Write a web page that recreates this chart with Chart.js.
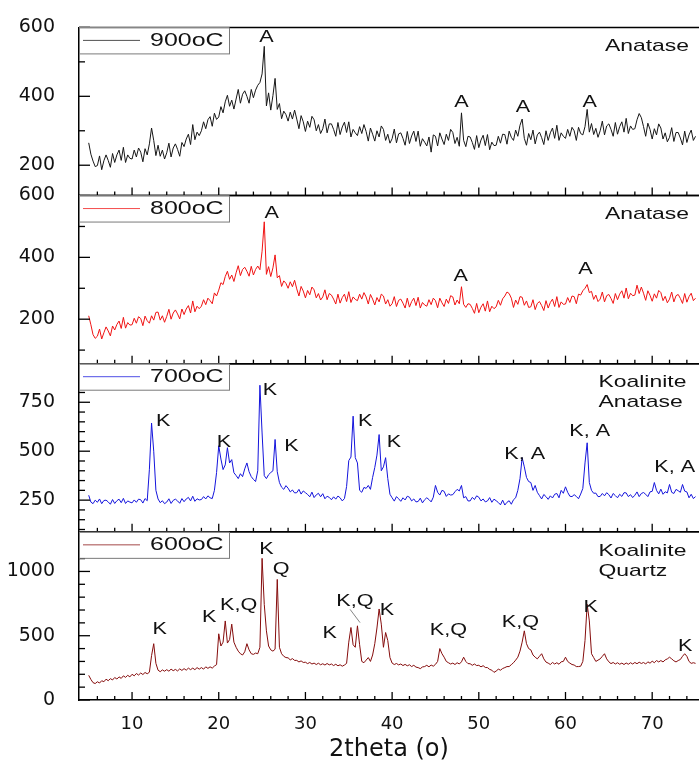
<!DOCTYPE html>
<html>
<head>
<meta charset="utf-8">
<script src="https://cdn.jsdelivr.net/npm/chart.js@4.4.1/dist/chart.umd.min.js"></script>
<style>
  html, body { margin: 0; padding: 0; background: #fff; overflow: hidden; }
  #wrap { width: 699px; height: 764px; }
</style>
</head>
<body>
<div id="wrap"><canvas id="xrdChart" width="699" height="764"></canvas></div>
<script>
// 2theta grid of the scans, 5 to 75 deg in 0.25 deg steps
const twoTheta = [];
for (let i = 0; i <= 280; i++) twoTheta.push(5 + i * 0.25);

// intensities, one group per degree (4 points)
const xrd900 = [
  265, 232, 212, 196,  199, 227, 187, 213,  230, 214, 194, 234,  208, 230, 244, 214,
  252, 208, 230, 220,  218, 244, 224, 250,  238, 210, 248, 230,  262, 308, 272, 228,
  258, 226, 244, 218,  236, 264, 224, 250,  262, 246, 226, 266,  254, 276, 290, 260,
  318, 274, 296, 286,  300, 326, 306, 332,  341, 313, 351, 333,  340, 370, 352, 384,
  403, 371, 389, 363,  392, 420, 380, 406,  416, 400, 380, 420,  396, 418, 432, 440,
  465, 545, 372, 410,  360, 402, 452, 362,  379, 335, 357, 347,  328, 354, 334, 360,
  334, 306, 344, 326,  298, 328, 310, 342,  332, 300, 318, 292,  306, 334, 294, 320,
  320, 304, 284, 324,  289, 311, 325, 295,  326, 282, 304, 294,  286, 312, 292, 318,
  298, 270, 308, 290,  270, 300, 282, 314,  304, 272, 290, 264,  277, 305, 265, 291,
  294, 278, 258, 298,  263, 285, 299, 269,  299, 255, 277, 267,  256, 282, 238, 288,
  284, 256, 294, 276,  260, 290, 272, 304,  295, 263, 281, 255,  352, 272, 254, 284,
  282, 266, 246, 286,  251, 273, 287, 257,  289, 245, 267, 257,  258, 284, 264, 290,
  289, 261, 299, 281,  272, 302, 284, 316,  334, 278, 258, 292,  274, 302, 262, 288,
  296, 280, 260, 300,  272, 294, 308, 278,  316, 272, 294, 284,  278, 304, 284, 310,
  300, 272, 310, 292,  288, 312, 362, 296,  321, 289, 307, 281,  300, 328, 288, 314,
  320, 304, 284, 324,  290, 312, 326, 296,  336, 292, 314, 304,  306, 332, 350, 338,
  312, 284, 322, 304,  276, 306, 288, 320,  308, 276, 294, 268,  281, 309, 269, 295,
  295, 279, 259, 299,  266, 288, 302, 272,
  284
];
const xrd800 = [
  211, 182, 150, 138,  145, 168, 136, 156,  175, 162, 146, 178,  165, 183, 194, 170,
  206, 171, 189, 181,  182, 203, 187, 208,  202, 179, 210, 195,  187, 211, 197, 222,
  223, 197, 211, 190,  209, 232, 200, 220,  230, 217, 201, 233,  215, 233, 244, 220,
  259, 224, 242, 234,  242, 263, 247, 268,  260, 250, 285, 275,  294, 318, 312, 338,
  355, 329, 343, 322,  350, 373, 341, 361,  368, 355, 339, 371,  343, 361, 372, 360,
  420, 515, 345, 370,  338, 366, 408, 334,  341, 306, 324, 316,  300, 321, 305, 326,
  298, 275, 306, 291,  269, 293, 279, 304,  295, 269, 283, 262,  272, 295, 263, 283,
  278, 265, 249, 281,  252, 270, 281, 257,  289, 254, 272, 264,  260, 281, 265, 286,
  272, 249, 280, 265,  246, 270, 256, 281,  275, 249, 263, 242,  250, 273, 241, 261,
  265, 252, 236, 268,  239, 257, 268, 244,  271, 236, 254, 246,  242, 263, 247, 268,
  260, 237, 268, 253,  241, 265, 251, 276,  272, 246, 262, 250,  305, 248, 238, 250,
  248, 235, 219, 251,  221, 239, 250, 226,  259, 224, 242, 234,  240, 261, 245, 266,
  275, 288, 283, 268,  238, 262, 248, 273,  271, 245, 259, 238,  240, 263, 231, 251,
  257, 244, 228, 260,  236, 254, 265, 241,  273, 238, 256, 248,  249, 270, 254, 275,
  273, 250, 281, 278,  292, 300, 312, 286,  290, 264, 278, 257,  265, 288, 256, 276,
  280, 267, 251, 283,  263, 281, 292, 268,  301, 266, 284, 276,  278, 310, 283, 304,
  284, 261, 292, 277,  258, 282, 268, 293,  286, 260, 274, 253,  265, 288, 256, 276,
  280, 267, 251, 283,  255, 273, 284, 260,
  268
];
const xrd700 = [
  275, 240, 232, 250,  239, 256, 232, 248,  250, 241, 229, 253,  233, 247, 255, 237,
  259, 233, 246, 240,  236, 251, 239, 255,  252, 235, 258, 247,  408, 644, 500, 300,
  256, 237, 247, 232,  240, 257, 233, 249,  255, 246, 234, 258,  242, 256, 264, 246,
  270, 244, 257, 251,  253, 268, 256, 272,  262, 258, 300, 391,  528, 460, 406, 430,
  518, 440, 457, 390,  376, 360, 385, 370,  410, 440, 395, 370,  356, 345, 400, 837,
  593, 375, 360, 380,  391, 400, 560, 395,  340, 316, 305, 324,  311, 292, 302, 287,
  288, 305, 281, 297,  288, 279, 267, 291,  263, 277, 285, 267,  283, 257, 270, 264,
  252, 267, 255, 271,  262, 246, 258, 320,  452, 470, 679, 467,  440, 300, 290, 315,
  310, 325, 305, 366,  417, 480, 585, 400,  420, 467, 360, 280,  262, 245, 268, 257,
  244, 262, 251, 270,  265, 246, 256, 241,  243, 260, 236, 252,  262, 253, 241, 265,
  325, 290, 276, 300,  295, 269, 282, 276,  278, 293, 305, 297,  325, 262, 268, 246,
  246, 264, 253, 272,  265, 246, 256, 241,  246, 263, 239, 255,  247, 238, 226, 250,
  225, 239, 247, 229,  252, 262, 300, 360,  467, 420, 366, 345,  340, 300, 325, 290,
  273, 256, 279, 268,  254, 272, 261, 280,  284, 262, 300, 285,  318, 290, 270, 268,
  278, 269, 257, 281,  310, 440, 543, 340,  300, 285, 286, 268,  269, 284, 272, 288,
  278, 261, 284, 273,  262, 280, 269, 288,  287, 268, 278, 263,  275, 292, 268, 284,
  289, 280, 268, 292,  295, 340, 300, 282,  306, 280, 293, 287,  330, 290, 284, 305,
  298, 290, 330, 296,  292, 262, 280, 258,
  268
];
const xrd600 = [
  192, 160, 135, 128,  142, 132, 150, 142,  162, 150, 166, 156,  175, 163, 180, 168,
  188, 176, 192, 180,  200, 188, 206, 194,  210, 198, 214, 204,  216, 345, 438, 285,
  232, 220, 234, 224,  236, 224, 240, 228,  238, 226, 242, 230,  244, 232, 248, 236,
  248, 236, 252, 240,  252, 240, 258, 246,  258, 248, 264, 275,  515, 420, 450, 615,
  443, 470, 590, 450,  410, 380, 360, 350,  375, 438, 390, 360,  355, 365, 360, 410,
  1102, 744, 538, 420, 390, 380, 395, 938,  410, 360, 340, 330,  328, 312, 322, 308,
  308, 296, 304, 292,  294, 283, 292, 280,  287, 276, 286, 274,  282, 272, 284, 273,
  280, 268, 278, 266,  274, 263, 272, 285,  450, 564, 430, 410,  577, 430, 300, 290,
  310, 330, 300, 350,  438, 560, 708, 590,  410, 525, 462, 330,  287, 276, 284, 273,
  280, 268, 277, 266,  274, 260, 270, 256,  252, 244, 257, 260,  270, 258, 272, 263,
  277, 300, 400, 360,  333, 300, 290, 280,  287, 276, 290, 280,  297, 333, 300, 283,
  282, 270, 280, 268,  270, 258, 267, 253,  252, 238, 232, 215,  225, 240, 232, 245,
  252, 260, 260, 275,  290, 310, 333, 380,  450, 538, 438, 400,  390, 350, 333, 320,
  340, 360, 320, 295,  287, 276, 292, 280,  290, 278, 297, 300,  333, 300, 287, 276,
  272, 260, 260, 263,  300, 462, 744, 615,  360, 330, 300, 310,  320, 340, 360, 320,
  297, 283, 292, 280,  290, 278, 287, 276,  288, 278, 290, 280,  292, 282, 294, 284,
  292, 280, 297, 286,  302, 290, 307, 296,  307, 296, 312, 320,  333, 320, 305, 296,
  307, 315, 340, 360,  340, 300, 285, 290,
  285
];

// axis ticks
const xLabels = [10, 20, 30, 40, 50, 60, 70];
const xMinor = [6, 8, 12, 14, 16, 18, 22, 24, 26, 28, 32, 34, 36, 38, 42, 44, 46, 48, 52, 54, 56, 58, 62, 64, 66, 68, 72, 74];
const yLabels900 = [200, 400, 600];
const yMinor900 = [300, 500];
const yLabels800 = [200, 400, 600];
const yMinor800 = [100, 300, 500];
const yLabels700 = [250, 500, 750];
const yMinor700 = [100, 150, 200, 300, 350, 400, 450, 550, 600, 650, 700, 800, 850, 900];
const yLabels600 = [0, 500, 1000];
const yMinor600 = [100, 200, 300, 400, 600, 700, 800, 900, 1100, 1200, 1300];

// peak marks: [text, 2theta, intensity]
const marks900 = [['A', 25.5, 570], ['A', 48.0, 381], ['A', 55.1, 366], ['A', 62.8, 381]];
const marks800 = [['A', 26.1, 541], ['A', 47.9, 339], ['A', 62.3, 360]];
const marks700 = [['K', 13.6, 652], ['K', 20.6, 546], ['K', 25.9, 812], ['K', 28.4, 526],
  ['K', 36.9, 652], ['K', 40.2, 543], ['K, A', 55.3, 484], ['K, A', 62.8, 602], ['K, A', 72.6, 417]];
const marks600 = [['K', 13.2, 551], ['K', 18.9, 641], ['K,Q', 22.3, 731], ['K', 25.5, 1167],
  ['Q', 27.2, 1013], ['K', 32.8, 513], ['K,Q', 35.7, 769], ['K', 39.4, 692],
  ['K,Q', 46.5, 538], ['K,Q', 54.8, 602], ['K', 62.9, 718], ['K', 73.8, 415]];

const panels = [
  { axis: 'y900', name: '900oC', color: '#161616', phases: ['Anatase'], labels: yLabels900, minor: yMinor900, marks: marks900 },
  { axis: 'y800', name: '800oC', color: '#f01212', phases: ['Anatase'], labels: yLabels800, minor: yMinor800, marks: marks800 },
  { axis: 'y700', name: '700oC', color: '#1414dc', phases: ['Koalinite', 'Anatase'], labels: yLabels700, minor: yMinor700, marks: marks700 },
  { axis: 'y600', name: '600oC', color: '#850c0c', phases: ['Koalinite', 'Quartz'], labels: yLabels600, minor: yMinor600, marks: marks600 }
];

// text in the figure is a wide Arial, so stretch it a little
function wideText(ctx, text, x, y, size, align) {
  ctx.save();
  ctx.translate(x, y);
  ctx.scale(1.35, 1);
  ctx.font = size + 'px "Liberation Sans", Arial, sans-serif';
  ctx.textAlign = align || 'center';
  ctx.textBaseline = 'middle';
  ctx.fillStyle = '#111';
  ctx.fillText(text, 0, 0);
  ctx.restore();
}

function seg(ctx, x1, y1, x2, y2) {
  ctx.beginPath();
  ctx.moveTo(x1, y1);
  ctx.lineTo(x2, y2);
  ctx.stroke();
}

const decor = {
  id: 'decor',
  afterDatasetsDraw(chart) {
    const { ctx, chartArea, scales } = chart;
    const xs = scales.x;
    const left = chartArea.left;
    ctx.save();
    panels.forEach(p => {
      const ys = scales[p.axis];
      ctx.strokeStyle = '#000';
      ctx.lineWidth = 1.5;
      seg(ctx, left, ys.top, chartArea.right + 5, ys.top);
      if (p.axis !== 'y600') seg(ctx, left, ys.bottom, chartArea.right + 5, ys.bottom);

      // inward ticks on the bottom edge
      ctx.lineWidth = 1.3;
      xLabels.forEach(v => { const px = xs.getPixelForValue(v); seg(ctx, px, ys.bottom, px, ys.bottom - 8); });
      xMinor.forEach(v => { const px = xs.getPixelForValue(v); seg(ctx, px, ys.bottom, px, ys.bottom - 4); });
      // inward ticks on the left edge
      p.labels.forEach(v => { const py = ys.getPixelForValue(v); seg(ctx, left, py, left + 11, py); });
      p.minor.forEach(v => { const py = ys.getPixelForValue(v); seg(ctx, left, py, left + 6, py); });

      p.marks.forEach(m => wideText(ctx, m[0], xs.getPixelForValue(m[1]), ys.getPixelForValue(m[2]), 16));

      // phase names, top right
      p.phases.forEach((t, i) => {
        const px = p.phases.length > 1 ? xs.getPixelForValue(63.8) : xs.getPixelForValue(69.4);
        wideText(ctx, t, px, ys.top + 19 + i * 20, 17, p.phases.length > 1 ? 'left' : 'center');
      });

      // legend box
      ctx.fillStyle = '#fff';
      ctx.fillRect(left, ys.top, 150, 26);
      ctx.strokeStyle = '#7a7a7a';
      ctx.lineWidth = 1;
      ctx.strokeRect(left + 0.5, ys.top + 0.5, 150, 26);
      ctx.strokeStyle = p.color;
      ctx.globalAlpha = 0.75;
      seg(ctx, left + 4, ys.top + 13, left + 61, ys.top + 13);
      ctx.globalAlpha = 1;
      wideText(ctx, p.name, left + 71, ys.top + 13.5, 18.5, 'left');
    });

    // leader from the K,Q mark to the 36 deg peak
    const y6 = scales.y600;
    ctx.strokeStyle = '#666';
    ctx.lineWidth = 0.8;
    seg(ctx, xs.getPixelForValue(35.15), y6.getPixelForValue(705), xs.getPixelForValue(36.3), y6.getPixelForValue(602));
    ctx.restore();
  }
};

function yAxis(lo, hi, labels) {
  return {
    type: 'linear',
    position: 'left',
    stack: 'xrd',
    stackWeight: 1,
    min: lo,
    max: hi,
    grid: { display: false },
    border: { display: true, color: '#000', width: 1.5 },
    ticks: {
      padding: 16,
      color: '#111',
      font: { family: 'DejaVu Sans', size: 19 },
      callback: v => String(v)
    },
    afterBuildTicks: s => { s.ticks = labels.map(v => ({ value: v })); },
    afterFit: s => { s.width = 79; }
  };
}

const ctx = document.getElementById('xrdChart').getContext('2d');

new Chart(ctx, {
  type: 'line',
  data: {
    labels: twoTheta,
    datasets: panels.map((p, i) => ({
      label: p.name,
      data: [xrd900, xrd800, xrd700, xrd600][i],
      yAxisID: p.axis,
      borderColor: p.color,
      borderWidth: 1,
      pointRadius: 0,
      tension: 0
    }))
  },
  options: {
    responsive: false,
    animation: false,
    devicePixelRatio: 1,
    layout: { padding: { top: 20, left: 0, right: 0, bottom: 0 } },
    plugins: { legend: { display: false }, tooltip: { enabled: false } },
    scales: {
      x: {
        type: 'linear',
        min: 3.88,
        max: 75.4,
        grid: { display: false },
        border: { display: true, color: '#000', width: 1.5 },
        ticks: {
          padding: 6,
          color: '#111',
          font: { family: 'DejaVu Sans', size: 18 },
          callback: v => String(v)
        },
        title: {
          display: true,
          text: '2theta (o)',
          color: '#111',
          font: { family: 'DejaVu Sans', size: 24 },
          padding: { top: 0, bottom: 0 }
        },
        afterBuildTicks: s => { s.ticks = xLabels.map(v => ({ value: v })); },
        afterFit: s => { s.height = 64; }
      },
      y600: yAxis(0, 1308, yLabels600),
      y700: yAxis(88, 947, yLabels700),
      y800: yAxis(56, 600, yLabels800),
      y900: yAxis(112, 600, yLabels900)
    }
  },
  plugins: [decor]
});
</script>
</body>
</html>
